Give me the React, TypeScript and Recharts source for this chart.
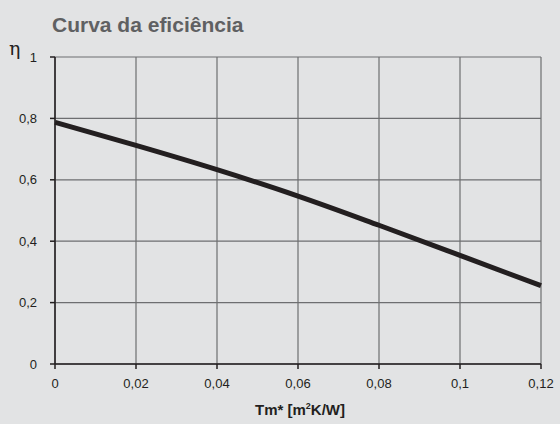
import { LineChart, Line, XAxis, YAxis, CartesianGrid, Label } from "recharts";

const tmValues = [0, 0.02, 0.04, 0.06, 0.08, 0.1, 0.12];
const etaValues = [0.787, 0.712, 0.633, 0.547, 0.452, 0.354, 0.255];
const xTicks = [0, 0.02, 0.04, 0.06, 0.08, 0.1, 0.12];
const yTicks = [0, 0.2, 0.4, 0.6, 0.8, 1];

const data = tmValues.map((tm, i) => ({ tm, eta: etaValues[i] }));

const fmt = (v: number) => String(v).replace(".", ",");

const font = "'Liberation Sans', Arial, Helvetica, sans-serif";

export default function App() {
  return (
    <div
      style={{
        position: "absolute",
        left: 0,
        top: 0,
        width: 560,
        height: 424,
        background: "#e2e3e4",
        fontFamily: font,
      }}
    >
      <div
        style={{
          position: "absolute",
          left: 52,
          top: 13,
          fontSize: 21,
          fontWeight: "bold",
          color: "#5f6062",
        }}
      >
        Curva da eficiência
      </div>
      <div
        style={{
          position: "absolute",
          left: 9,
          top: 37,
          fontSize: 19,
          color: "#222",
          fontFamily: "'DejaVu Serif', serif",
        }}
      >
        η
      </div>
      <LineChart
        width={560}
        height={424}
        data={data}
        margin={{ top: 57, right: 19, left: 0, bottom: 0 }}
      >
        <CartesianGrid stroke="#6d6e70" strokeWidth={1.2} />
        <XAxis
          dataKey="tm"
          type="number"
          domain={[0, 0.12]}
          ticks={xTicks}
          tickFormatter={fmt}
          height={60}
          tickSize={5}
          tickMargin={10}
          stroke="#231f20"
          strokeWidth={1.5}
          tick={{ fill: "#231f20", fontSize: 13, fontFamily: font }}
        >
          <Label
            position="insideBottom"
            offset={6}
            content={() => (
              <text
                x={300}
                y={415}
                textAnchor="middle"
                fontFamily={font}
                fontSize={15}
                fontWeight="bold"
                fill="#231f20"
              >
                Tm* [m
                <tspan dy={-6} fontSize={9}>
                  2
                </tspan>
                <tspan dy={6}>K/W]</tspan>
              </text>
            )}
          />
        </XAxis>
        <YAxis
          type="number"
          domain={[0, 1]}
          ticks={yTicks}
          tickFormatter={fmt}
          width={55}
          tickSize={5}
          tickMargin={13}
          stroke="#231f20"
          strokeWidth={1.5}
          tick={{ fill: "#231f20", fontSize: 13, fontFamily: font }}
        />
        <Line
          type="monotone"
          dataKey="eta"
          stroke="#231f20"
          strokeWidth={5}
          dot={false}
          isAnimationActive={false}
        />
      </LineChart>
    </div>
  );
}
